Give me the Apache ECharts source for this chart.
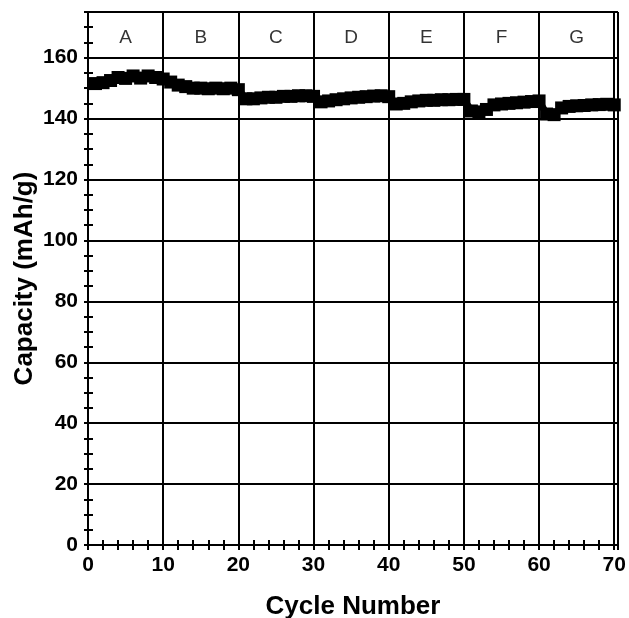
<!DOCTYPE html>
<html>
<head>
<meta charset="utf-8">
<script src="https://cdn.jsdelivr.net/npm/echarts@6/dist/echarts.min.js"></script>
<style>
	html, body { margin: 0; padding: 0; background: #fff; }
	#chart { width: 629px; height: 618px; }
</style>
</head>
<body>
<div id="chart"></div>
<script>
// 循环编号与容量
const cycles = [
	1, 2, 3, 4, 5, 6, 7, 8, 9, 10,
	11, 12, 13, 14, 15, 16, 17, 18, 19, 20,
	21, 22, 23, 24, 25, 26, 27, 28, 29, 30,
	31, 32, 33, 34, 35, 36, 37, 38, 39, 40,
	41, 42, 43, 44, 45, 46, 47, 48, 49, 50,
	51, 52, 53, 54, 55, 56, 57, 58, 59, 60,
	61, 62, 63, 64, 65, 66, 67, 68, 69, 70
];
const capacity = [
	151.5, 151.8, 152.5, 153.5, 153.2, 154.0, 153.3, 154.0, 153.5, 153.0,
	152.0, 151.0, 150.5, 150.0, 150.0, 149.8, 150.0, 149.8, 150.0, 149.5,
	146.5, 146.5, 146.8, 147.0, 147.0, 147.3, 147.3, 147.5, 147.5, 147.3,
	145.5, 145.8, 146.2, 146.5, 146.8, 147.0, 147.2, 147.4, 147.5, 147.2,
	144.8, 145.0, 145.5, 145.8, 146.0, 146.0, 146.2, 146.2, 146.3, 146.3,
	142.5, 142.2, 143.0, 144.5, 144.8, 145.0, 145.2, 145.4, 145.6, 145.8,
	141.5, 141.3, 143.5, 144.0, 144.2, 144.3, 144.5, 144.6, 144.7, 144.5
];
// 顶部分段标签
const segmentNames = ['A', 'B', 'C', 'D', 'E', 'F', 'G'];
const segmentCenters = [5, 15, 25, 35, 45, 55, 65];
const segmentLabelY = 166.5;

const xTicks = { min: 0, max: 70.5, interval: 10 };
const yTicks = { min: 0, max: 175, interval: 20 };

const fontFamily = 'Arial, "Liberation Sans", Helvetica, sans-serif';
const black = '#000';

const chart = echarts.init(document.getElementById('chart'));

const baseAxisLine = { show: true, lineStyle: { color: black, width: 2 } };
const gridLine = { show: true, lineStyle: { color: black, width: 2 } };
// 刻度朝内（主刻度与网格线重合）
const innerTick = { show: true, inside: true, length: 5, lineStyle: { color: black, width: 2 } };
const minorX = { show: true, splitNumber: 5, length: 5, lineStyle: { color: black, width: 2 } };
const minorY = { show: true, splitNumber: 4, length: 5, lineStyle: { color: black, width: 2 } };

chart.setOption({
	backgroundColor: '#fff',
	animation: false,
	grid: { left: 88, right: 11, top: 12, bottom: 73, outerBoundsMode: 'none', containLabel: false },
	xAxis: [
		{
			type: 'value',
			min: xTicks.min,
			max: xTicks.max,
			interval: xTicks.interval,
			position: 'bottom',
			name: 'Cycle Number',
			nameLocation: 'middle',
			nameGap: 49,
			nameMoveOverlap: false,
			nameTextStyle: { color: black, fontSize: 26, fontWeight: 'bold', fontFamily },
			axisLine: baseAxisLine,
			axisTick: innerTick,
			minorTick: minorX,
			axisLabel: {
				color: black, fontSize: 21, fontWeight: 'bold', fontFamily, margin: 10,
				formatter: v => (v % 10 === 0 ? String(v) : '')
			},
			splitLine: gridLine
		},
		{
			type: 'value',
			min: xTicks.min,
			max: xTicks.max,
			interval: xTicks.interval,
			position: 'top',
			axisLine: baseAxisLine,
			axisTick: innerTick,
			minorTick: minorX,
			axisLabel: { show: false },
			splitLine: { show: false }
		}
	],
	yAxis: [
		{
			type: 'value',
			min: yTicks.min,
			max: yTicks.max,
			interval: yTicks.interval,
			position: 'left',
			name: 'Capacity (mAh/g)',
			nameLocation: 'middle',
			nameGap: 50,
			nameMoveOverlap: false,
			nameTextStyle: { color: black, fontSize: 26, fontWeight: 'bold', fontFamily },
			axisLine: baseAxisLine,
			axisTick: innerTick,
			minorTick: minorY,
			axisLabel: {
				color: black, fontSize: 21, fontWeight: 'bold', fontFamily, margin: 10,
				formatter: v => (v % 20 === 0 ? String(v) : '')
			},
			splitLine: gridLine
		},
		{
			type: 'value',
			min: yTicks.min,
			max: yTicks.max,
			interval: yTicks.interval,
			position: 'right',
			axisLine: baseAxisLine,
			axisTick: { show: true, inside: true, length: 4, lineStyle: { color: black, width: 2 } },
			minorTick: { show: true, splitNumber: 4, length: 4, lineStyle: { color: black, width: 2 } },
			axisLabel: { show: false },
			splitLine: { show: false }
		}
	],
	series: [
		{
			type: 'line',
			data: cycles.map((c, i) => [c, capacity[i]]),
			symbol: 'rect',
			symbolSize: 13,
			showSymbol: true,
			lineStyle: { color: black, width: 7 },
			itemStyle: { color: black },
			z: 5
		},
		{
			type: 'scatter',
			data: segmentCenters.map((c, i) => ({ value: [c, segmentLabelY], name: segmentNames[i] })),
			symbolSize: 0,
			label: {
				show: true,
				position: 'inside',
				formatter: p => p.name,
				color: black,
				fontSize: 19,
				fontFamily
			},
			z: 6
		}
	]
});
</script>
</body>
</html>
